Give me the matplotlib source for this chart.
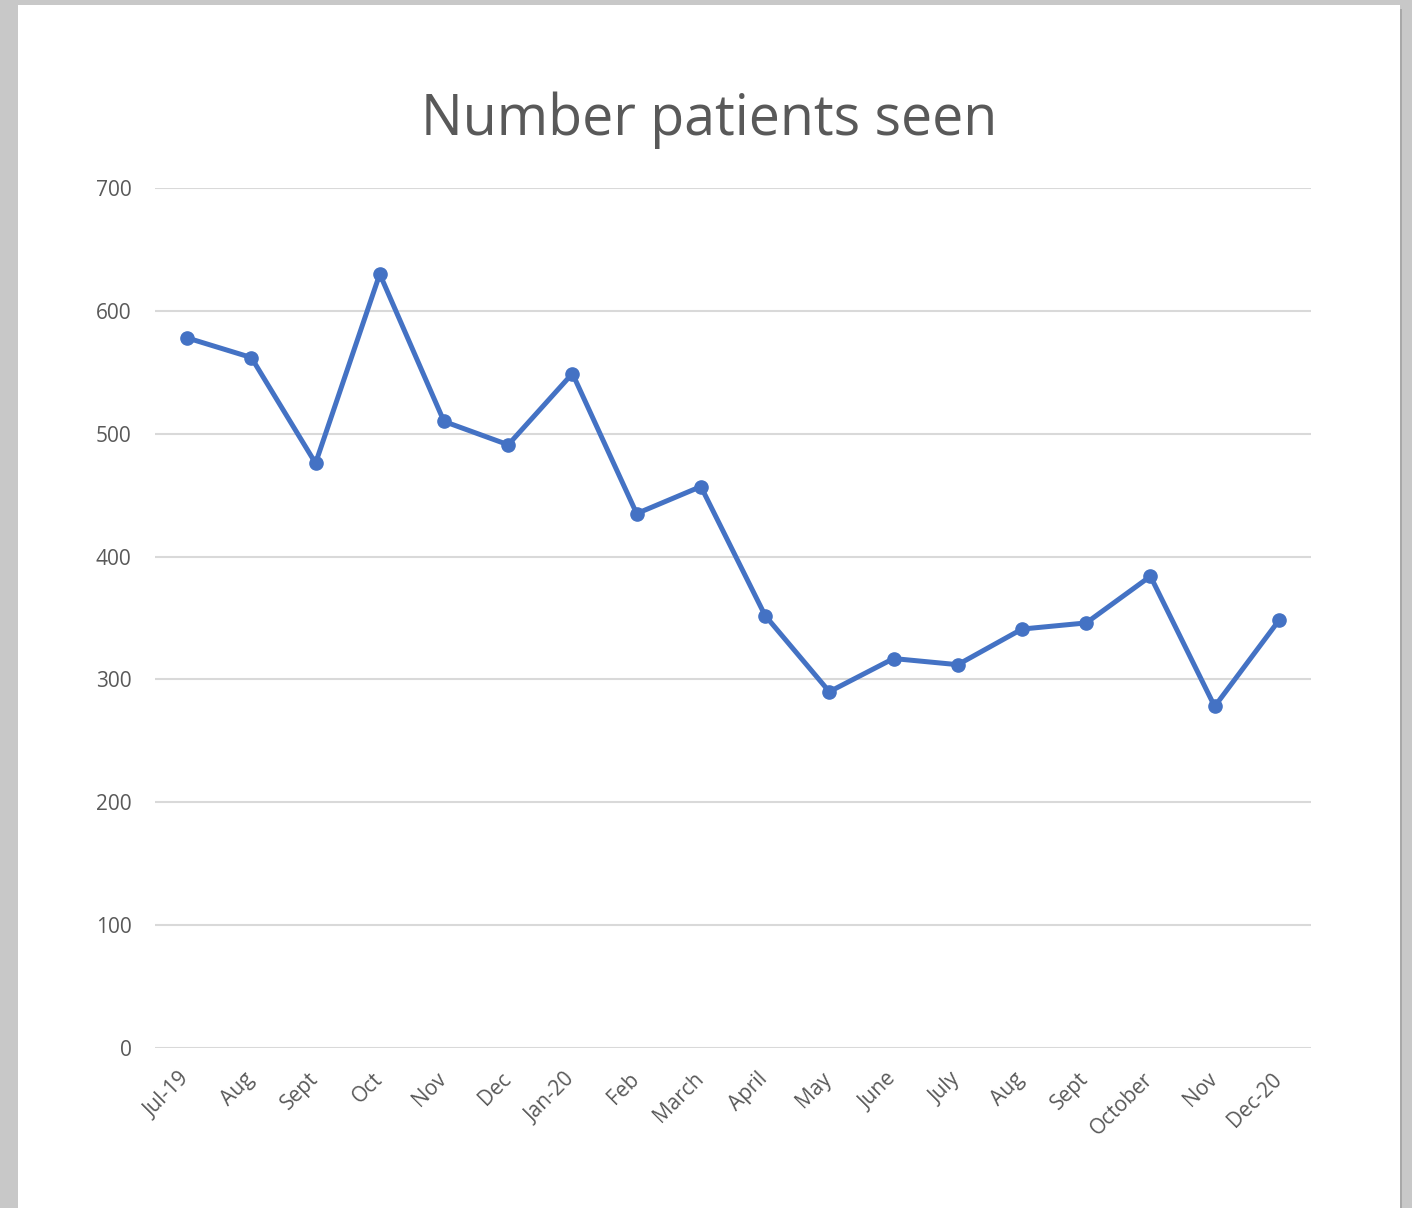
import matplotlib
matplotlib.use("Agg")
import matplotlib.pyplot as plt
from matplotlib.patches import Rectangle
from matplotlib.transforms import ScaledTranslation

months = ["Jul-19", "Aug", "Sept", "Oct", "Nov", "Dec", "Jan-20", "Feb", "March",
          "April", "May", "June", "July", "Aug", "Sept", "October", "Nov", "Dec-20"]
patients = [578, 562, 476, 630, 510, 491, 549, 435, 457,
            352, 290, 317, 312, 341, 346, 384, 278, 348]
yticks = [0, 100, 200, 300, 400, 500, 600, 700]

plt.rcParams['font.family'] = ['Open Sans', 'DejaVu Sans']
W, H = 1412, 1208
fig = plt.figure(figsize=(W / 100, H / 100), dpi=100)
fig.patch.set_facecolor('#c8c8c8')

# page shadow and page
fig.add_artist(Rectangle((22 / W, 0), (1384 - 4) / W, (H - 9) / H,
                         transform=fig.transFigure, facecolor='#a8a8a8', edgecolor='none', zorder=-2))
fig.add_artist(Rectangle((18 / W, 0), (1400 - 18) / W, (H - 5) / H,
                         transform=fig.transFigure, facecolor='white', edgecolor='none', zorder=-1))

ax = fig.add_axes([155 / W, 160 / H, (1311 - 155) / W, (1048 - 188) / H])
ax.set_facecolor('none')
x = list(range(len(months)))
ax.plot(x, patients, color='#4472C4', linewidth=3.6, marker='o', markersize=9.5,
        solid_joinstyle='round', solid_capstyle='round', zorder=3)
ax.set_xlim(-0.5, len(months) - 0.5)
ax.set_ylim(0, 700)
ax.set_yticks(yticks)
ax.set_yticklabels([str(v) for v in yticks])
ax.set_xticks(x)
ax.set_xticklabels(months, rotation=45, ha='right', va='top', rotation_mode='anchor')
ax.grid(axis='y', color='#d9d9d9', linewidth=1.5, zorder=0)
ax.set_axisbelow(True)
for s in ax.spines.values():
    s.set_visible(False)
ax.tick_params(axis='both', length=0, colors='#595959', labelsize=15)
ax.tick_params(axis='y', pad=17)
ax.tick_params(axis='x', pad=12)
shift = ScaledTranslation(-0.08, -0.04, fig.dpi_scale_trans)
for lbl in ax.get_xticklabels():
    lbl.set_transform(lbl.get_transform() + shift)

fig.text(709 / W, 1 - 120 / H, "Number patients seen", ha='center', va='center',
         fontsize=40, color='#595959')

fig.savefig('out.png', dpi=100, facecolor=fig.get_facecolor())
